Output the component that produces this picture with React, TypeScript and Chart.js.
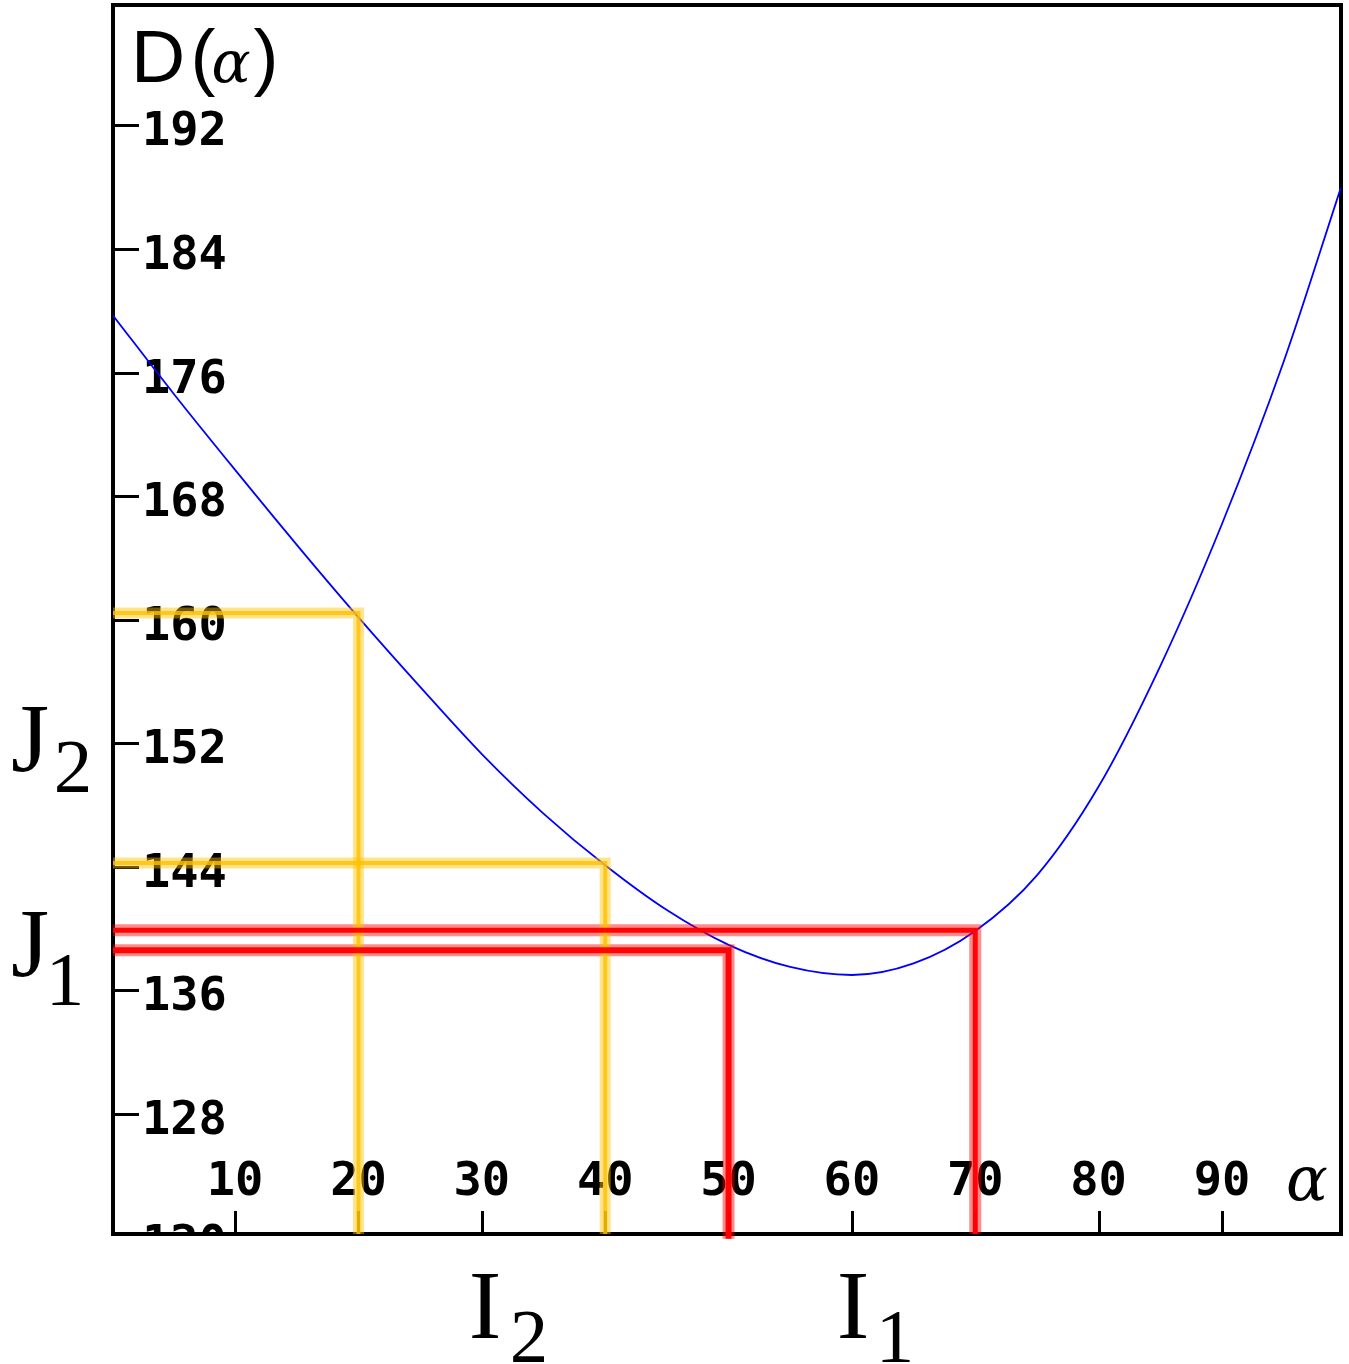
import React, { useEffect, useRef } from "react";
import { Chart, registerables } from "chart.js";

Chart.register(...registerables);

// Curve D(α)
const alphaValues = [0.1, 5, 10, 15, 20, 25, 30, 35, 40, 45, 50, 55, 60, 65, 70, 75, 80, 85, 90, 95, 99.65];
const dValues = [179.7, 174.65, 169.7, 164.85, 160.15, 155.65, 151.3, 147.45, 144.1, 141.2, 138.95, 137.52, 137.0, 137.75, 139.85, 143.45, 149.2, 157.0, 166.2, 176.7, 188.0];

// Axis ticks
const xTickValues = [10, 20, 30, 40, 50, 60, 70, 80, 90];
const xTickLabels = ["10", "20", "30", "40", "50", "60", "70", "80", "90"];
const yTickValues = [120, 128, 136, 144, 152, 160, 168, 176, 184, 192];
const yTickLabels = ["120", "128", "136", "144", "152", "160", "168", "176", "184", "192"];

// Axis ranges
const xRange = [0.1, 99.65];
const yRange = [120.23, 199.8];

// Guide lines (α, D(α)) pairs
const yellowAlphas = [20, 40];
const yellowLevels = [160.44, 144.25];
const redAlphas = [70, 50];
const redLevels = [139.9, 138.6];

function guidePoints(alpha: number, level: number, bottom: number) {
  return [
    { x: xRange[0], y: level },
    { x: alpha, y: level },
    { x: alpha, y: bottom },
  ];
}

export default function App() {
  const ref = useRef<HTMLCanvasElement | null>(null);

  useEffect(() => {
    const canvas = ref.current;
    if (!canvas) return;

    const datasets: any[] = [
      {
        data: alphaValues.map((a, i) => ({ x: a, y: dValues[i] })),
        borderColor: "#0000ff",
        borderWidth: 1.8,
        pointRadius: 0,
        cubicInterpolationMode: "monotone",
        order: 5,
      },
    ];
    yellowAlphas.forEach((a, i) => {
      const pts = guidePoints(a, yellowLevels[i], yRange[0]);
      datasets.push({ data: pts, borderColor: "rgba(255,195,0,0.45)", borderWidth: 11, pointRadius: 0, tension: 0, order: 3, borderJoinStyle: "miter", borderCapStyle: "butt" });
      datasets.push({ data: pts, borderColor: "rgba(255,192,0,0.8)", borderWidth: 4, pointRadius: 0, tension: 0, order: 2, borderJoinStyle: "miter", borderCapStyle: "butt" });
    });
    redAlphas.forEach((a, i) => {
      const pts = guidePoints(a, redLevels[i], i === 1 ? yRange[0] - 0.3 : yRange[0]);
      datasets.push({ data: pts, borderColor: "rgba(255,0,0,0.45)", borderWidth: 12, pointRadius: 0, tension: 0, order: 3, borderJoinStyle: "miter", borderCapStyle: "butt", clip: 10 });
      datasets.push({ data: pts, borderColor: "rgba(255,0,0,0.97)", borderWidth: i === 1 ? 6 : 5, pointRadius: 0, tension: 0, order: 1, borderJoinStyle: "miter", borderCapStyle: "butt", clip: 10 });
    });

    const axesPlugin = {
      id: "axesPlugin",
      beforeDatasetsDraw(chart: any) {
        const ctx = chart.ctx as CanvasRenderingContext2D;
        const ca = chart.chartArea;
        const xs = chart.scales.x;
        const ys = chart.scales.y;
        ctx.save();
        // frame
        ctx.strokeStyle = "#000";
        ctx.lineWidth = 4;
        ctx.strokeRect(ca.left, ca.top, ca.right - ca.left, ca.bottom - ca.top);
        // clip for ticks and labels
        ctx.beginPath();
        ctx.rect(ca.left, ca.top, ca.right - ca.left, ca.bottom - ca.top);
        ctx.clip();
        ctx.lineWidth = 3;
        yTickValues.forEach((v) => {
          const py = Math.round(ys.getPixelForValue(v)) + 0.5;
          ctx.beginPath();
          ctx.moveTo(ca.left, py);
          ctx.lineTo(ca.left + 26, py);
          ctx.stroke();
        });
        xTickValues.forEach((v) => {
          const px = Math.round(xs.getPixelForValue(v)) + 0.5;
          ctx.beginPath();
          ctx.moveTo(px, ca.bottom);
          ctx.lineTo(px, ca.bottom - 23);
          ctx.stroke();
        });
        ctx.fillStyle = "#000";
        ctx.font = 'bold 47px "DejaVu Sans Mono"';
        ctx.textBaseline = "alphabetic";
        ctx.textAlign = "left";
        yTickValues.forEach((v, i) => {
          const py = ys.getPixelForValue(v);
          ctx.fillText(yTickLabels[i], ca.left + 29, py + 20);
        });
        ctx.textAlign = "center";
        xTickValues.forEach((v, i) => {
          const px = xs.getPixelForValue(v);
          ctx.fillText(xTickLabels[i], px, ca.bottom - 39);
        });
        // axis titles inside the plot
        ctx.font = '75px "Liberation Sans"';
        ctx.fillText("D", 158, 82);
        ctx.fillText("(", 203, 82);
        ctx.fillText(")", 266, 82);
        ctx.font = 'italic 58px "DejaVu Serif"';
        ctx.fillText("\u03b1", 231, 82);
        ctx.font = 'italic 62px "DejaVu Serif"';
        ctx.fillText("\u03b1", 1307, ca.bottom - 34);
        ctx.restore();

        // outside labels
        ctx.save();
        ctx.fillStyle = "#000";
        ctx.textAlign = "center";
        ctx.textBaseline = "alphabetic";
        ctx.font = '98px "Liberation Serif"';
        ctx.fillText("J", 30, 771);
        ctx.fillText("J", 30, 976);
        ctx.fillText("I", 485, 1338);
        ctx.fillText("I", 853, 1338);
        ctx.font = '77px "Liberation Serif"';
        ctx.fillText("2", 73, 792);
        ctx.fillText("1", 65, 1005);
        ctx.fillText("2", 529, 1362);
        ctx.fillText("1", 895, 1362);
        ctx.restore();
      },
    };

    const chart = new Chart(canvas, {
      type: "line",
      data: { datasets },
      options: {
        responsive: false,
        animation: false,
        events: [],
        layout: { padding: { left: 113, right: 8, top: 5, bottom: 130 } },
        scales: {
          x: { type: "linear", min: xRange[0], max: xRange[1], display: false },
          y: { type: "linear", min: yRange[0], max: yRange[1], display: false },
        },
        plugins: { legend: { display: false }, tooltip: { enabled: false } },
      },
      plugins: [axesPlugin],
    } as any);

    return () => chart.destroy();
  }, []);

  return (
    <div style={{ position: "absolute", left: 0, top: 0, width: 1349, height: 1364, background: "#fff" }}>
      <canvas ref={ref} width={1349} height={1364} style={{ display: "block", width: 1349, height: 1364 }} />
    </div>
  );
}
